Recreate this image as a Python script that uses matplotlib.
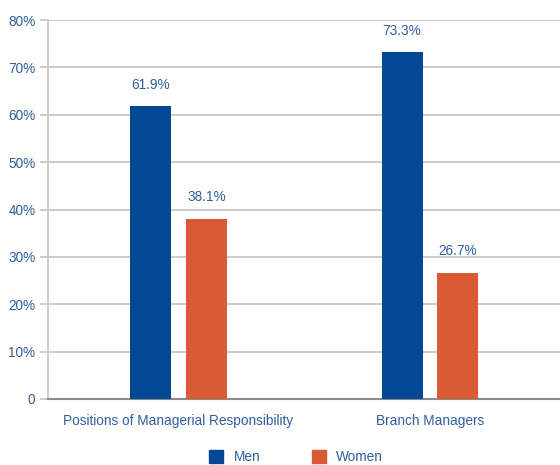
import matplotlib
matplotlib.use("Agg")
from matplotlib import pyplot as plt
from matplotlib.patches import Patch
import numpy as np

categories = ["Positions of Managerial Responsibility", "Branch Managers"]
men = [61.9, 73.3]
women = [38.1, 26.7]
yticks = [0, 10, 20, 30, 40, 50, 60, 70, 80]
ytick_labels = ["0", "10%", "20%", "30%", "40%", "50%", "60%", "70%", "80%"]

men_color = "#024895"
women_color = "#da5a35"
text_color = "#2f5f9e"
grid_color = "#c4c4c4"

plt.rcParams['font.family'] = ['Liberation Sans Narrow', 'Liberation Sans', 'DejaVu Sans']
fs = 9.8

fig = plt.figure(figsize=(5.6, 4.65), dpi=100)
ax = fig.add_axes([48/560, 1 - 399/465, 512/560, 379/465])

x = np.arange(len(categories))
w = 0.163
off = 0.111
b1 = ax.bar(x - off, men, w, color=men_color, zorder=3)
b2 = ax.bar(x + off, women, w, color=women_color, zorder=3)

for bars, vals in ((b1, men), (b2, women)):
    for rect, v in zip(bars, vals):
        ax.text(rect.get_x() + rect.get_width()/2, v + 3.0, f"{v:.1f}%",
                ha="center", va="bottom", fontsize=fs, color=text_color)

ax.set_xlim(-0.519, 1.517)
ax.set_ylim(0, 80)
ax.set_yticks(yticks)
ax.set_yticklabels(ytick_labels)
ax.set_xticks(x)
ax.set_xticklabels(categories)
ax.yaxis.grid(True, color=grid_color, linewidth=1.2, zorder=0)
ax.tick_params(axis="y", colors=grid_color, labelcolor=text_color, labelsize=fs,
               length=6, width=1.2, pad=3)
ax.tick_params(axis="x", length=0, labelcolor=text_color, labelsize=fs, pad=11)
for s in ("top", "right"):
    ax.spines[s].set_visible(False)
ax.spines["left"].set_color(grid_color)
ax.spines["left"].set_linewidth(1.2)
ax.spines["bottom"].set_color("#8a8a8a")
ax.spines["bottom"].set_linewidth(1.5)

handles = [Patch(color=men_color, label="Men"), Patch(color=women_color, label="Women")]
fig.legend(handles=handles, loc="center", bbox_to_anchor=(296/560, 1 - 457/465), ncol=2,
           frameon=False, fontsize=fs, labelcolor=text_color, handlelength=1.04,
           handleheight=1.04, columnspacing=3.8, handletextpad=0.74, borderpad=0,
           borderaxespad=0)

fig.savefig("out.png", dpi=100)
